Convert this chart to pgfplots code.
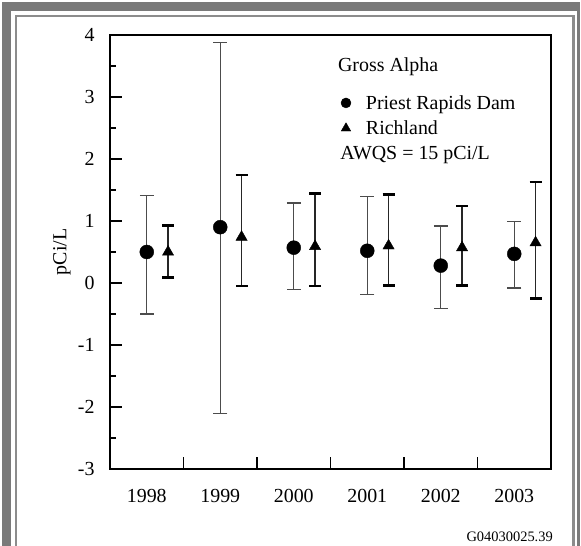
\documentclass[border=0pt]{standalone}
\usepackage{fontspec}
\setmainfont{Liberation Serif}
\usepackage{pgfplots}
\pgfplotsset{compat=1.18}
\usepackage{pgfplotstable}

\pgfplotstableread{
x y ep em
1 0.50 0.91 1.00
2 0.90 2.98 3.01
3 0.57 0.72 0.68
4 0.52 0.88 0.71
5 0.28 0.64 0.69
6 0.47 0.52 0.55
}\prd
\pgfplotstableread{
x y ep em
1.29 0.50 0.43 0.41
2.29 0.74 1.00 0.79
3.29 0.59 0.85 0.64
4.29 0.60 0.83 0.64
5.29 0.57 0.67 0.61
6.29 0.65 0.98 0.90
}\ric

\definecolor{framegray}{HTML}{7A7A7A}
\definecolor{innergray}{HTML}{8C8C8C}

\begin{document}
\begin{tikzpicture}[x=1bp,y=1bp]
\useasboundingbox (0,0) rectangle (581,546);
\fill[framegray] (2,0) rectangle (11,544);
\fill[framegray] (2,535) rectangle (580,544);
\fill[framegray] (577,0) rectangle (580,544);
\draw[innergray, line width=2.5bp] (16,0) -- (16,530) -- (573.5,530) -- (573.5,0);

\begin{axis}[
  at={(110bp,77bp)}, anchor=south west,
  width=441bp, height=434bp, scale only axis,
  xmin=0.5, xmax=6.5, ymin=-3, ymax=4,
  axis line style={line width=2.2bp},
  every tick/.style={black, line width=1.2bp},
  tick align=inside, tick pos=left,
  major tick length=12bp, minor tick length=6bp,
  xtick={1.5,2.5,3.5,4.5,5.5}, xticklabels={},
  extra x ticks={1,2,3,4,5,6},
  extra x tick labels={1998,1999,2000,2001,2002,2003},
  extra x tick style={major tick length=0pt},
  ytick={-3,-2,-1,0,1,2,3,4},
  yticklabels={-3,-2,-1,0,1,2,3,4},
  minor y tick num=1,
  tick label style={font=\fontsize{20}{24}\selectfont},
  xticklabel style={yshift=-17bp},
  yticklabel style={xshift=-12bp},
  ylabel={pCi/L},
  label style={font=\fontsize{20}{24}\selectfont},
  ylabel style={at={(axis description cs:-0.109,0.5)}, anchor=center},
  legend style={draw=none, fill=none, at={(axis cs:3.64,2.70)}, anchor=west,
    inner sep=0pt, font=\fontsize{20}{24}\selectfont, row sep=8bp,
    nodes={inner sep=1bp},
    /tikz/every odd column/.append style={column sep=14bp}},
  legend cell align=left,
  legend image code/.code={\draw[#1] plot coordinates {(0bp,0bp)};},
]
\addplot[forget plot, only marks, mark=*, mark size=7bp, black,
  error bars/.cd, y dir=both, y explicit,
  error bar style={line width=1.1bp, black!70},
  error mark options={rotate=90, mark size=7bp, line width=1.1bp, black!70}]
  table[x=x, y=y, y error plus=ep, y error minus=em]{\prd};
\addplot[forget plot, only marks, mark=triangle*, mark size=6.5bp, black,
  error bars/.cd, y dir=both, y explicit,
  error bar style={line width=1.2bp, black!85},
  error mark options={rotate=90, mark size=6bp, line width=2.6bp, black}]
  table[x=x, y=y, y error plus=ep, y error minus=em]{\ric};
\addlegendimage{only marks, mark=*, mark size=5bp, black}
\addlegendentry{Priest Rapids Dam}
\addlegendimage{only marks, mark=triangle*, mark size=5.5bp, black}
\addlegendentry{Richland}
\node[anchor=base west, inner sep=0pt, font=\fontsize{20}{24}\selectfont] at (axis cs:3.60,3.41) {Gross Alpha};
\node[anchor=base west, inner sep=0pt, font=\fontsize{20}{24}\selectfont] at (axis cs:3.63,1.99) {AWQS = 15 pCi/L};
\end{axis}
\node[anchor=base east, inner sep=0pt, font=\fontsize{14.5}{17}\selectfont] at (553,4.3) {G04030025.39};
\end{tikzpicture}
\end{document}
